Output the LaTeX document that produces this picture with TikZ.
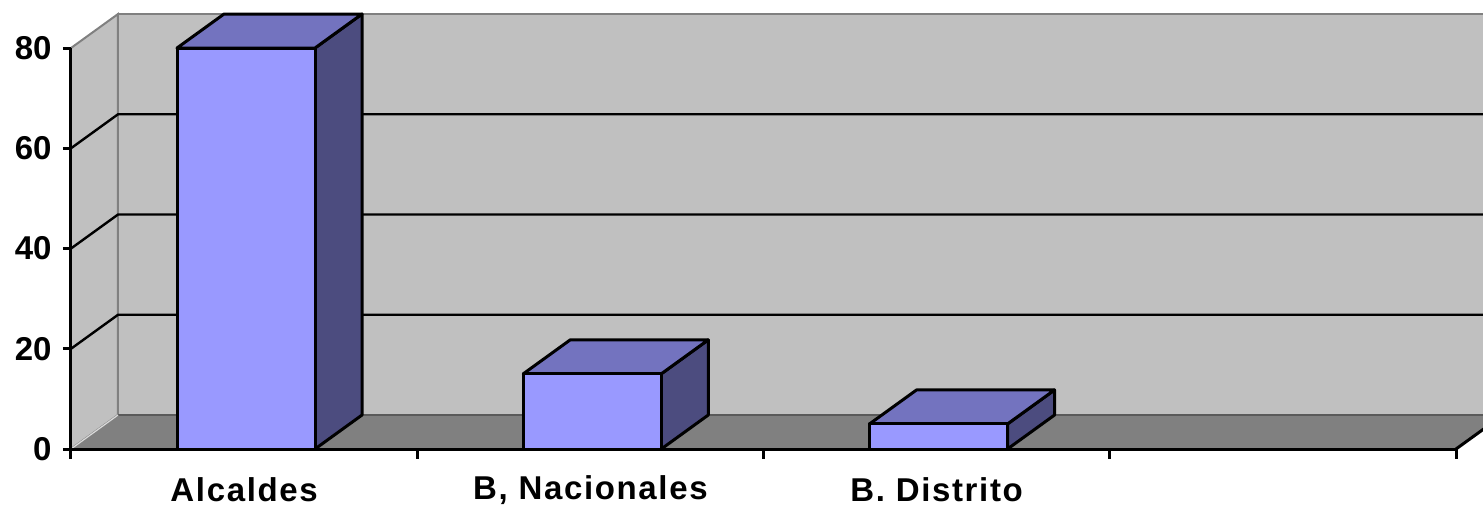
\documentclass[tikz,border=0pt]{standalone}
\usepackage{fontspec}
\setmainfont{Liberation Sans}
\newfontfamily\catfont[LetterSpace=5]{Liberation Sans}

\definecolor{barfront}{HTML}{9999FF}
\definecolor{bartop}{HTML}{7373BF}
\definecolor{barside}{HTML}{4C4C7F}
\definecolor{wallgray}{HTML}{C0C0C0}
\definecolor{floorgray}{HTML}{808080}

\tikzset{
  wall/.style={fill=wallgray, draw=floorgray, line width=1pt},
  gridline/.style={black, line width=1.2pt},
  barface/.style={draw=black, line width=1.5pt, line join=round},
  axisline/.style={black, line width=1.5pt},
  valuelabel/.style={font=\bfseries\fontsize{16.5}{18}\selectfont, anchor=east, inner sep=0pt},
  catlabel/.style={font=\catfont\bfseries\fontsize{16.5}{18}\selectfont, inner sep=0pt},
}

\begin{document}
\begin{tikzpicture}[x=0.5pt,y=2.50625pt]
  \useasboundingbox (-71,-11.57) rectangle (1412,89.58);
  \clip (-71,-11.57) rectangle (1412,89.58);
  % walls and floor
  \fill[wallgray] (47,6.78) rectangle (1432,86.78);
  \draw[floorgray, line width=1pt] (47,6.78) -- (47,86.78) -- (1432,86.78);
  \filldraw[wall] (0,0) -- (47,6.78) -- (47,86.78) -- (0,80) -- cycle;
  \fill[floorgray] (0,0) -- (1385,0) -- (1432,6.78) -- (47,6.78) -- cycle;
  \draw[floorgray!70!black, line width=1pt] (47,6.78) -- (1432,6.78);
  \draw[wallgray!60!white, line width=0.6pt] (0,0) -- (47,6.78);
  \draw[axisline] (1385,0) -- (1432,6.78);
  % grid
  \foreach \v in {20,40,60} {
    \draw[gridline] (0,\v) -- (47,\v+6.78) -- (1432,\v+6.78);
  }
  % bars
  \foreach \val [count=\i] in {80,15,5} {
    \pgfmathsetmacro{\L}{(\i-1)*346.25+106}
    \pgfmathsetmacro{\R}{\L+138}
    \filldraw[barface, fill=barside] (\R,0) -- (\R+47,6.78) -- (\R+47,\val+6.78) -- (\R,\val) -- cycle;
    \filldraw[barface, fill=bartop] (\L,\val) -- (\L+47,\val+6.78) -- (\R+47,\val+6.78) -- (\R,\val) -- cycle;
    \filldraw[barface, fill=barfront] (\L,0) rectangle (\R,\val);
  }
  % axes
  \draw[axisline] (0,0) -- (0,80);
  \draw[axisline] (0,0) -- (1385,0);
  \foreach \v in {0,20,40,60,80} {
    \draw[axisline] (-8,\v) -- (0,\v);
    \node[valuelabel] (y\v) at (-19,\v) {\v};
  }
  \foreach \i in {0,...,4} {
    \draw[axisline] (\i*346.25,0) -- (\i*346.25,-2);
  }
  \node[catlabel] (alcaldes) at (173.1,-8.2) {Alcaldes};
  \node[catlabel] (nacionales) at (519.4,-8.2) {B, Nacionales};
  \node[catlabel] (distrito) at (865.6,-8.2) {B. Distrito};
\end{tikzpicture}
\end{document}
